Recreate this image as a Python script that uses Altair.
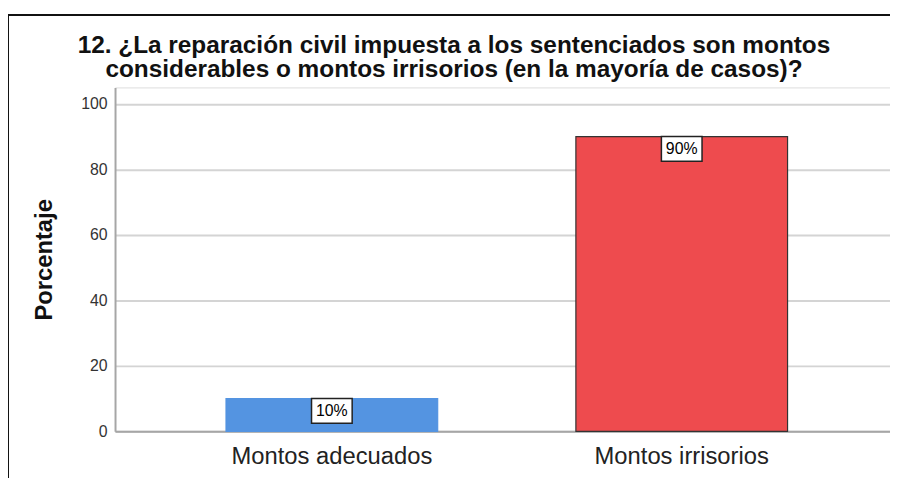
import altair as alt
import pandas as pd

categories = ["Montos adecuados", "Montos irrisorios"]
values = [10, 90]
labels = ["10%", "90%"]
colors = ["#5494E1", "#EE4B4E"]
strokes = ["#5494E1", "#333333"]
y_ticks = [0, 20, 40, 60, 80, 100]
title_lines = [
    "12. ¿La reparación civil impuesta a los sentenciados son montos",
    "considerables o montos irrisorios (en la mayoría de casos)?",
]

df = pd.DataFrame({"cat": categories, "val": values, "lab": labels,
                   "col": colors, "stk": strokes})

FONT = "Liberation Sans"
W, H = 782, 347

x_enc = alt.X("cat:N", sort=categories,
              scale=alt.Scale(paddingInner=0.395, paddingOuter=0.305, align=0.52),
              axis=alt.Axis(title=None, labelAngle=0, labelFontSize=24,
                            labelFont=FONT, labelColor="#222222", labelPadding=13,
                            labelLimit=0, ticks=False, domainColor="#a6a6a6",
                            domainWidth=2, grid=False))
y_scale = alt.Scale(domain=[0, 105], nice=False)

bars = alt.Chart(df).mark_bar(strokeWidth=1.2).encode(
    x=x_enc,
    y=alt.Y("val:Q", scale=y_scale,
            axis=alt.Axis(title="Porcentaje", values=y_ticks, titleFontSize=24,
                          titleFont=FONT, titleFontWeight="bold", titleColor="#111111",
                          titlePadding=24, labelFontSize=16, labelFont=FONT,
                          labelColor="#333333", labelPadding=8, ticks=False,
                          domainColor="#a6a6a6", domainWidth=2,
                          gridColor="#d4d4d4", gridWidth=2)),
    color=alt.Color("col:N", scale=None),
    stroke=alt.Stroke("stk:N", scale=None),
)

boxes = alt.Chart(df).mark_point(
    shape="M-2.05,-1.25L2.05,-1.25L2.05,1.25L-2.05,1.25Z",
    size=400, filled=True, fill="white", stroke="#222222", strokeWidth=1.5,
    opacity=1, yOffset=12.5,
).encode(x=alt.X("cat:N", sort=categories), y=alt.Y("val:Q", scale=y_scale))

texts = alt.Chart(df).mark_text(
    fontSize=16, font=FONT, color="black", baseline="middle", yOffset=13,
).encode(x=alt.X("cat:N", sort=categories), y=alt.Y("val:Q", scale=y_scale),
         text="lab:N")

frame_data = alt.Data(values=[{"k": 1}])
title_mark = alt.Chart(frame_data).mark_text(
    fontSize=24.6, font=FONT, fontWeight="bold", color="#111111",
    lineHeight=24, align="center", baseline="alphabetic",
).encode(x=alt.value(342), y=alt.value(-35), text=alt.value(title_lines))

top_border = alt.Chart(frame_data).mark_rule(color="#111111", strokeWidth=2).encode(
    x=alt.value(-109), x2=alt.value(W + 10), y=alt.value(-73))
left_border = alt.Chart(frame_data).mark_rule(color="#111111", strokeWidth=2).encode(
    x=alt.value(-108), y=alt.value(-74), y2=alt.value(H + 60))

chart = alt.layer(bars, boxes, texts, title_mark, top_border, left_border).properties(
    width=W, height=H,
    autosize=alt.AutoSizeParams(type="none"),
    padding={"left": 108, "top": 78, "right": 0, "bottom": 45},
).configure_view(stroke=None).configure(background="white")

chart.save("out.html", embed_options={"renderer": "svg", "actions": False})
